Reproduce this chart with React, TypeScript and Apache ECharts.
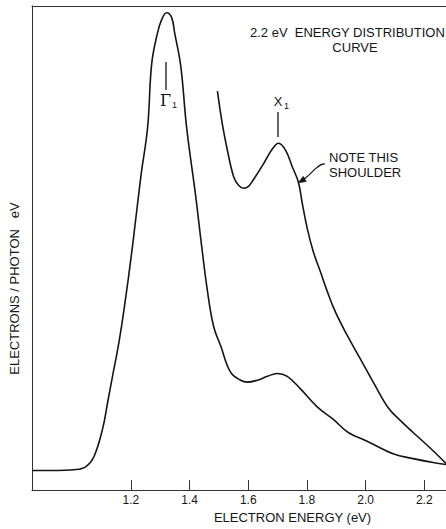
import React, { useEffect, useRef } from "react";
import * as echarts from "echarts";

// Main energy distribution curve (energy in eV, intensity in arbitrary units)
const mainEnergy = [
  0.863, 0.928, 1.013, 1.047, 1.074, 1.104, 1.121, 1.138, 1.159, 1.176, 1.206,
  1.234, 1.257, 1.271, 1.291, 1.305, 1.322, 1.339, 1.349, 1.370, 1.390,
  1.421, 1.438, 1.461, 1.482, 1.506, 1.540, 1.574, 1.597, 1.631, 1.665,
  1.699, 1.733, 1.778, 1.835, 1.890, 1.941, 2.005, 2.094, 2.162, 2.230, 2.274,
];
const mainIntensity = [
  4.05, 4.05, 4.25, 4.86, 6.88, 12.75, 18.2, 23.7, 30.4, 37.0, 50.6,
  64.8, 74.9, 88.1, 94.5, 97.2, 98.6, 97.6, 94.5, 87.6, 74.9,
  60.7, 52.0, 41.1, 33.8, 29.8, 24.3, 22.7, 22.3, 22.7, 23.5,
  24.1, 23.5, 20.9, 17.2, 14.6, 11.9, 10.1, 7.5, 6.5, 5.7, 5.3,
];

// Expanded-scale curve showing the X1 shoulder
const zoomEnergy = [
  1.495, 1.512, 1.529, 1.550, 1.567, 1.584, 1.601, 1.618, 1.652, 1.682,
  1.703, 1.727, 1.750, 1.771, 1.784, 1.801, 1.822, 1.846, 1.869, 1.897,
  1.937, 1.982, 2.026, 2.077, 2.118, 2.162, 2.220, 2.274,
];
const zoomIntensity = [
  82.4, 75.5, 70.2, 64.8, 62.96, 62.35, 62.75, 64.17, 67.4, 70.45,
  71.66, 70.24, 66.8, 63.6, 59.3, 54.05, 49.2, 45.1, 41.1, 36.8,
  32.0, 27.1, 22.3, 17.0, 14.4, 11.9, 8.7, 5.5,
];

const tickValues = [1.2, 1.4, 1.6, 1.8, 2.0, 2.2];

const X_MIN = 0.863;
const X_MAX = 2.274;
const FONT = "'Liberation Sans', Arial, sans-serif";
const INK = "#151515";

export default function App() {
  const ref = useRef<HTMLDivElement>(null);

  useEffect(() => {
    if (!ref.current) return;
    const chart = echarts.init(ref.current, undefined, { renderer: "svg" });
    const mainData = mainEnergy.map((e, i) => [e, mainIntensity[i]]);
    const zoomData = zoomEnergy.map((e, i) => [e, zoomIntensity[i]]);

    chart.setOption({
      animation: false,
      backgroundColor: "#ffffff",
      textStyle: { fontFamily: FONT },
      grid: { left: 31, top: 6, right: 0, bottom: 29, containLabel: false },
      xAxis: [
        {
          type: "value",
          min: X_MIN,
          max: X_MAX,
          position: "bottom",
          axisLine: { show: true, onZero: false, lineStyle: { color: "#333", width: 1 } },
          axisTick: {
            show: true,
            inside: true,
            length: 10,
            customValues: tickValues,
            lineStyle: { color: "#333", width: 1 },
          },
          axisLabel: {
            show: true,
            customValues: tickValues,
            formatter: (v: number) => v.toFixed(1),
            color: INK,
            fontSize: 12,
            fontFamily: FONT,
            margin: 4,
          },
          splitLine: { show: false },
          name: "ELECTRON ENERGY (eV)",
          nameLocation: "middle",
          nameGap: 15,
          nameTextStyle: {
            color: INK,
            fontSize: 13,
            fontFamily: FONT,
            padding: [0, 0, 0, 107],
          },
        },
        {
          type: "value",
          min: X_MIN,
          max: X_MAX,
          position: "top",
          axisLine: { show: true, onZero: false, lineStyle: { color: "#333", width: 1 } },
          axisTick: { show: false },
          axisLabel: { show: false },
          splitLine: { show: false },
        },
      ],
      yAxis: {
        type: "value",
        min: 0,
        max: 100,
        axisLine: { show: true, onZero: false, lineStyle: { color: "#333", width: 1 } },
        axisTick: { show: false },
        axisLabel: { show: false },
        splitLine: { show: false },
        name: "ELECTRONS / PHOTON   eV",
        nameLocation: "middle",
        nameRotate: 90,
        nameGap: 11,
        nameTextStyle: {
          color: INK,
          fontSize: 13,
          fontFamily: FONT,
          padding: [0, 81, 0, 0],
        },
      },
      series: [
        {
          type: "line",
          data: mainData,
          showSymbol: false,
          smooth: 0.4,
          lineStyle: { color: INK, width: 1.6 },
          silent: true,
        },
        {
          type: "line",
          data: zoomData,
          showSymbol: false,
          smooth: 0.4,
          lineStyle: { color: INK, width: 1.6 },
          silent: true,
        },
      ],
      graphic: [
        {
          type: "text",
          x: 250,
          y: 32,
          style: {
            text: "2.2 eV  ENERGY DISTRIBUTION",
            fill: INK,
            font: `13px ${FONT}`,
            textAlign: "left",
            textVerticalAlign: "middle",
          },
        },
        {
          type: "text",
          x: 355,
          y: 47,
          style: {
            text: "CURVE",
            fill: INK,
            font: `13px ${FONT}`,
            textAlign: "center",
            textVerticalAlign: "middle",
          },
        },
        {
          type: "line",
          shape: { x1: 166, y1: 62, x2: 166, y2: 90 },
          style: { stroke: INK, lineWidth: 1.3 },
        },
        {
          type: "text",
          x: 160,
          y: 100,
          style: {
            text: "Γ",
            fill: INK,
            font: `16px 'DejaVu Serif', serif`,
            textAlign: "left",
            textVerticalAlign: "middle",
          },
        },
        {
          type: "text",
          x: 172,
          y: 105,
          style: {
            text: "1",
            fill: INK,
            font: `9px ${FONT}`,
            textAlign: "left",
            textVerticalAlign: "middle",
          },
        },
        {
          type: "line",
          shape: { x1: 278, y1: 112, x2: 278, y2: 137 },
          style: { stroke: INK, lineWidth: 1.3 },
        },
        {
          type: "text",
          x: 278,
          y: 101,
          style: {
            text: "X",
            fill: INK,
            font: `13px ${FONT}`,
            textAlign: "center",
            textVerticalAlign: "middle",
          },
        },
        {
          type: "text",
          x: 284,
          y: 106,
          style: {
            text: "1",
            fill: INK,
            font: `9px ${FONT}`,
            textAlign: "left",
            textVerticalAlign: "middle",
          },
        },
        {
          type: "text",
          x: 329,
          y: 157,
          style: {
            text: "NOTE THIS",
            fill: INK,
            font: `13px ${FONT}`,
            textAlign: "left",
            textVerticalAlign: "middle",
          },
        },
        {
          type: "text",
          x: 329,
          y: 172,
          style: {
            text: "SHOULDER",
            fill: INK,
            font: `13px ${FONT}`,
            textAlign: "left",
            textVerticalAlign: "middle",
          },
        },
        {
          type: "bezierCurve",
          shape: { x1: 325, y1: 164, cpx1: 318, cpy1: 163, cpx2: 312, cpy2: 174, x2: 304, y2: 179 },
          style: { stroke: INK, lineWidth: 1.2, fill: null },
        },
        {
          type: "polygon",
          shape: { points: [[298, 183], [306.4, 181.4], [303.2, 176.3]] },
          style: { fill: INK, stroke: INK, lineWidth: 0.5 },
        },
      ],
    });

    return () => chart.dispose();
  }, []);

  return (
    <div
      ref={ref}
      style={{ position: "absolute", left: 0, top: 0, width: 446, height: 529 }}
    />
  );
}
